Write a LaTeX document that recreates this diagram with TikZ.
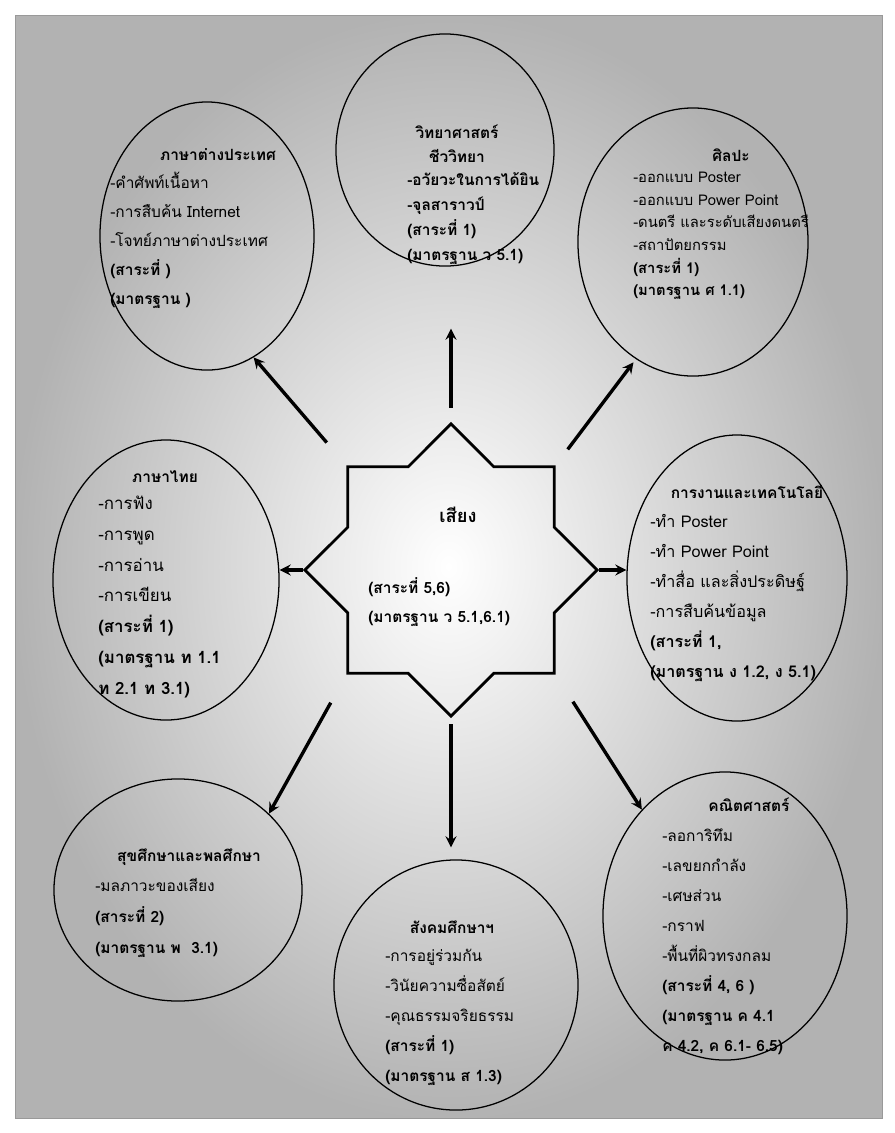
\documentclass[tikz,border=0pt]{standalone}
\usepackage{fontspec}
\setmainfont[Script=Thai]{Loma}
\usetikzlibrary{shapes.geometric,arrows,positioning}

\begin{document}
\begin{tikzpicture}[x=0.025cm, y=-0.025cm,
    bubble/.style={ellipse, draw, line width=0.9pt, inner sep=0pt},
    hub/.style={star, star points=8, star point ratio=1.307, draw, line width=2pt, minimum size=7.3cm, inner sep=0pt},
    title/.style={align=center, inner sep=0pt, font=\bfseries\fontsize{11}{17}\selectfont},
    body/.style={align=left, inner sep=0pt, anchor=west},
    arrow/.style={->, >=stealth, line width=2.4pt}
]

% Page
\fill[white] (0,0) rectangle (895,1133);
\shade[inner color=white, outer color=gray!60] (15,15) rectangle (882,1118);
\draw[gray!80, line width=0.6pt] (15,15) rectangle (882,1118);
\useasboundingbox (0,0) rectangle (895,1133);

% Centre
\node[hub] (hub) at (451,570) {};
\node[title, font=\bfseries\fontsize{13}{17}\selectfont] (hubT) at (458,515) {เสียง};
\node[body, font=\bfseries\fontsize{11}{20.6}\selectfont] (hubB) at (368,602)
    {(สาระที่ 5,6)\\(มาตรฐาน ว 5.1,6.1)};

% Bubbles
\node[bubble, minimum width=5.35cm, minimum height=6.7cm]  (for) at (207,236) {};
\node[bubble, minimum width=5.45cm, minimum height=5.8cm]  (sci) at (445,150) {};
\node[bubble, minimum width=5.75cm, minimum height=6.7cm]  (art) at (693,242) {};
\node[bubble, minimum width=5.65cm, minimum height=7.0cm]  (tha) at (166,580) {};
\node[bubble, minimum width=5.5cm,  minimum height=7.15cm] (tec) at (737,578) {};
\node[bubble, minimum width=6.2cm,  minimum height=5.55cm] (hea) at (178,890) {};
\node[bubble, minimum width=6.1cm,  minimum height=6.25cm] (soc) at (456,985) {};
\node[bubble, minimum width=6.1cm,  minimum height=7.2cm]  (mat) at (725,916) {};

% Texts
\node[title] (forT) at (218,155) {ภาษาต่างประเทศ};
\node[body, font=\fontsize{11}{20.6}\selectfont] (forB) at (110,240)
    {-คำศัพท์เนื้อหา\\-การสืบค้น Internet\\-โจทย์ภาษาต่างประเทศ\\\textbf{(สาระที่ )}\\\textbf{(มาตรฐาน )}};

\node[title] (sciT) at (457,144) {วิทยาศาสตร์\\ชีววิทยา};
\node[body, font=\bfseries\fontsize{11}{17.8}\selectfont] (sciB) at (407,219)
    {-อวัยวะในการได้ยิน\\-จุลสาราวป์\\(สาระที่ 1)\\(มาตรฐาน ว 5.1)};

\node[title] (artT) at (731,155) {ศิลปะ};
\node[body, font=\fontsize{10.5}{16.1}\selectfont] (artB) at (633,236)
    {-ออกแบบ Poster\\-ออกแบบ Power Point\\-ดนตรี และระดับเสียงดนตรี\\-สถาปัตยกรรม\\\textbf{(สาระที่ 1)}\\\textbf{(มาตรฐาน ศ 1.1)}};

\node[title] (thaT) at (165,477) {ภาษาไทย};
\node[body, font=\fontsize{12}{22}\selectfont] (thaB) at (98,597)
    {-การฟัง\\-การพูด\\-การอ่าน\\-การเขียน\\\textbf{(สาระที่ 1)}\\\textbf{(มาตรฐาน ท 1.1}\\\textbf{ท 2.1 ท 3.1)}};

\node[title] (tecT) at (747,492) {การงานและเทคโนโลยี};
\node[body, font=\fontsize{11.5}{21.3}\selectfont] (tecB) at (650,598)
    {-ทำ Poster\\-ทำ Power Point\\-ทำสื่อ และสิ่งประดิษฐ์\\-การสืบค้นข้อมูล\\\textbf{(สาระที่ 1,}\\\textbf{(มาตรฐาน ง 1.2, ง 5.1)}};

\node[title] (heaT) at (189,857) {สุขศึกษาและพลศึกษา};
\node[body, font=\fontsize{11}{22}\selectfont] (heaB) at (95,918)
    {-มลภาวะของเสียง\\\textbf{(สาระที่ 2)}\\\textbf{(มาตรฐาน พ\ \ 3.1)}};

\node[title] (socT) at (452,927) {สังคมศึกษาฯ};
\node[body, font=\fontsize{11}{21.3}\selectfont] (socB) at (385,1017)
    {-การอยู่ร่วมกัน\\-วินัยความซื่อสัตย์\\-คุณธรรมจริยธรรม\\\textbf{(สาระที่ 1)}\\\textbf{(มาตรฐาน ส 1.3)}};

\node[title] (matT) at (749,805) {คณิตศาสตร์};
\node[body, font=\fontsize{11}{21.3}\selectfont] (matB) at (662,942)
    {-ลอการิทึม\\-เลขยกกำลัง\\-เศษส่วน\\-กราฟ\\-พื้นที่ผิวทรงกลม\\\textbf{(สาระที่ 4, 6 )}\\\textbf{(มาตรฐาน ค 4.1}\\\textbf{ค 4.2, ค 6.1- 6.5)}};

% Arrows
\draw[arrow, shorten <=7.5mm] (hub.135) -- (for.-69);
\draw[arrow, shorten <=3.5mm, shorten >=15.5mm] (hub.north) -- (hub.north |- sci.south);
\draw[arrow, shorten <=5mm, shorten >=1mm] (hub.45) -- (art.-116);
\draw[arrow] (hub.west) -- (hub.west -| tha.east);
\draw[arrow] (hub.east) -- (hub.east -| tec.west);
\draw[arrow, shorten <=8mm] (hub.225) -- (hea.40);
\draw[arrow, shorten <=1.5mm, shorten >=3mm] (hub.south) -- (hub.south |- soc.north);
\draw[arrow, shorten <=8mm] (hub.-45) -- (mat.128);

\end{tikzpicture}
\end{document}
